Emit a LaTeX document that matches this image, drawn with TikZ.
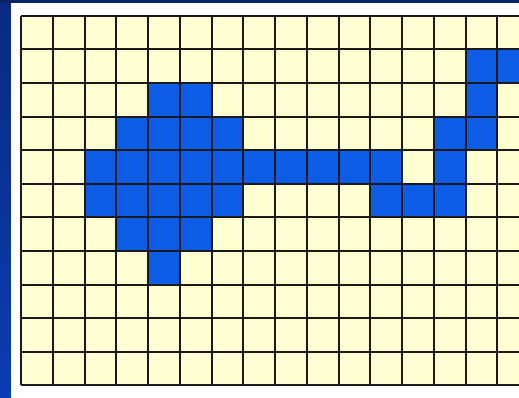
\documentclass[tikz,border=0pt]{standalone}
\begin{document}
\begin{tikzpicture}[x=1pt,y=-1pt]
\definecolor{navy}{HTML}{0A2266}
\definecolor{stripT}{HTML}{0A2A80}
\definecolor{stripB}{HTML}{0A3DB4}
\definecolor{cream}{HTML}{FFFFD2}
\definecolor{cellblue}{HTML}{0C5CE6}
\definecolor{gridline}{HTML}{1A1A1A}
\tikzset{gridstroke/.style={draw=gridline,line width=2pt},
         bluecell/.style={fill=cellblue}}
\useasboundingbox (0,0) rectangle (519,397);
\fill[navy] (0,0) rectangle (519,3);
\shade[top color=stripT,bottom color=stripB] (0,3) rectangle (11,397);
\fill[white] (11,3) rectangle (519,397);
\pgfmathsetmacro{\xo}{21}
\pgfmathsetmacro{\dx}{31.75}
\pgfmathsetmacro{\yo}{15.7}
\pgfmathsetmacro{\dy}{33.6}
\begin{scope}
\clip (0,0) rectangle (519,397);
\fill[cream] (\xo,\yo) rectangle (530,{\yo+11*\dy});
\foreach \c/\r in {14/1,15/1,
  4/2,5/2,14/2,
  3/3,4/3,5/3,6/3,13/3,14/3,
  2/4,3/4,4/4,5/4,6/4,7/4,8/4,9/4,10/4,11/4,13/4,
  2/5,3/5,4/5,5/5,6/5,11/5,12/5,13/5,
  3/6,4/6,5/6,
  4/7}{
  \fill[bluecell] ({\xo+\c*\dx},{\yo+\r*\dy}) rectangle ++(\dx,\dy);
}
\foreach \c in {0,...,16}{
  \draw[gridstroke] ({\xo+\c*\dx},\yo) -- ({\xo+\c*\dx},{\yo+11*\dy});
}
\foreach \r in {0,...,11}{
  \draw[gridstroke] (\xo,{\yo+\r*\dy}) -- (530,{\yo+\r*\dy});
}
\end{scope}
\end{tikzpicture}
\end{document}
